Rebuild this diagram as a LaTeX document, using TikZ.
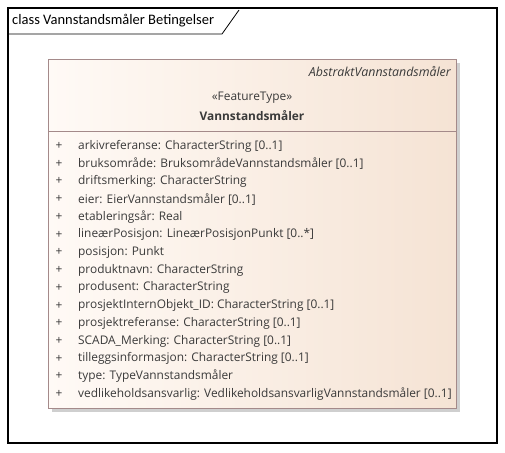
\documentclass[tikz,border=0pt]{standalone}
\usepackage{fontspec}
\setmainfont{Open Sans}
\newfontfamily\titlefont{Carlito}
\definecolor{boxline}{HTML}{A48A8A}
\definecolor{boxlight}{HTML}{FFFAF6}
\definecolor{boxdark}{HTML}{F5E3D4}
\definecolor{shadowgray}{HTML}{CFCFCF}
\definecolor{txt}{HTML}{3A3A3A}
\tikzset{
  attr/.style={anchor=west, inner sep=0pt, font=\fontsize{11.9}{13}\selectfont, text=txt},
  plus/.style={anchor=center, inner sep=0pt, font=\fontsize{11.9}{13}\selectfont, text=txt},
}
\begin{document}
\begin{tikzpicture}[x=1pt,y=-1pt]
\useasboundingbox (0,0) rectangle (505,452);
% frame
\draw[line width=1.1pt] (8,8) rectangle (497,443);
\draw[line width=0.8pt] (8,34) -- (222,34) -- (239,10);
\node[anchor=west, inner sep=0pt, font=\titlefont\fontsize{14.5}{16}\selectfont] (title) at (12,21) {class Vannstandsmåler Betingelser};
% shadow
\fill[shadowgray] (52,63) rectangle (460,412);
% box
\shade[left color=boxlight, right color=boxdark] (48,59) rectangle (456,408);
\draw[boxline, line width=1pt] (48,59) rectangle (456,408);
\draw[boxline, line width=1pt] (48,131) -- (456,131);
\node[anchor=east, inner sep=0pt, font=\itshape\fontsize{12.4}{13}\selectfont, text=txt] (abs) at (451,72) {AbstraktVannstandsmåler};
\node[inner sep=0pt, font=\fontsize{11.9}{13}\selectfont, text=txt] (st) at (252,98) {«FeatureType»};
\node[inner sep=0pt, font=\bfseries\fontsize{11.9}{13}\selectfont, text=txt] (nm) at (252,116) {Vannstandsmåler};
\foreach \t [count=\i from 0] in {
  {arkivreferanse: CharacterString [0..1]},
  {bruksområde: BruksområdeVannstandsmåler [0..1]},
  {driftsmerking: CharacterString},
  {eier: EierVannstandsmåler [0..1]},
  {etableringsår: Real},
  {lineærPosisjon: LineærPosisjonPunkt [0..*]},
  {posisjon: Punkt},
  {produktnavn: CharacterString},
  {produsent: CharacterString},
  {prosjektInternObjekt\_ID: CharacterString [0..1]},
  {prosjektreferanse: CharacterString [0..1]},
  {SCADA\_Merking: CharacterString [0..1]},
  {tilleggsinformasjon: CharacterString [0..1]},
  {type: TypeVannstandsmåler},
  {vedlikeholdsansvarlig: VedlikeholdsansvarligVannstandsmåler [0..1]}}
{
  \node[plus] (p\i) at (59,146+17.72*\i) {+};
  \node[attr] (a\i) at (78,146+17.72*\i) {\t};
}
\end{tikzpicture}
\end{document}
